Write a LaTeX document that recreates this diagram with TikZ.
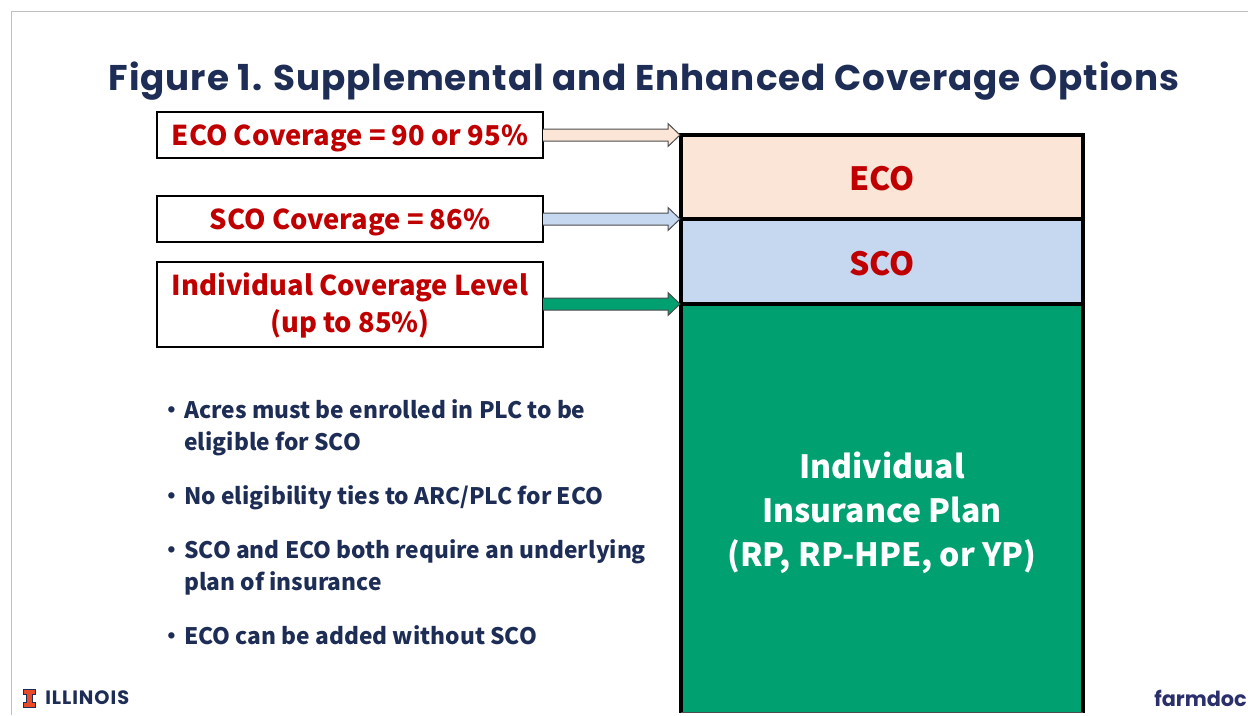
\documentclass[tikz,border=0pt]{standalone}
\usepackage{fontspec}
\usetikzlibrary{calc}
\setmainfont{Noto Sans CJK SC}
\newfontfamily\titlefont[LetterSpace=2.6]{Poppins}
\newfontfamily\logofont[LetterSpace=5]{Poppins}
\newfontfamily\farmfont{Poppins}
\definecolor{navy}{HTML}{1D2D55}
\definecolor{farmnavy}{HTML}{2B2F6B}
\definecolor{redtxt}{HTML}{C00000}
\definecolor{ecofill}{HTML}{FBE5D6}
\definecolor{scofill}{HTML}{C5D8F0}
\definecolor{greenfill}{HTML}{00A070}
\definecolor{framegray}{HTML}{BFBFBF}
\definecolor{illiorange}{HTML}{E84A27}
\tikzset{
  x=0.75pt,y=-0.75pt,
  labelbox/.style={draw=black,line width=1.9pt,outer sep=0pt,fill=white,minimum width=289.5pt,inner sep=0pt,align=center,text=redtxt,font=\fontsize{20.5}{27.75}\selectfont\bfseries},
  stackbox/.style={draw=black,line width=3pt,outer sep=0pt,minimum width=301pt,inner sep=0pt,align=center,font=\fontsize{24}{33}\selectfont\bfseries},
  bullettext/.style={anchor=west,inner sep=0pt,align=left,text=navy,font=\fontsize{17.05}{24}\selectfont\bfseries},
  blockarrow/.style={draw=black!70,line width=0.75pt,fill=#1,line join=miter}
}
\newcommand{\blockarr}[3]{%
  \draw[blockarrow=#3] let \p1=(#1),\p2=(#2) in
    (\x1,\y2+4.5pt) -- (\x2-10pt,\y2+4.5pt) -- (\x2-10pt,\y2+8.6pt) -- (\x2-1pt,\y2) --
    (\x2-10pt,\y2-8.6pt) -- (\x2-10pt,\y2-4.5pt) -- (\x1,\y2-4.5pt);
}
\newcommand{\itembullet}{\makebox[13.6pt][l]{\hspace{-4.5pt}•}}
\newcommand{\lowered}[2]{\raisebox{-#1}[\height][\depth]{#2}}
\begin{document}
\begin{tikzpicture}
\useasboundingbox (0,0) rectangle (1248,715);
\draw[framegray,line width=0.9pt] (11.5,715) -- (11.5,11.5) -- (1248,11.5);

\node[anchor=center,text=navy,font=\titlefont\fontsize{26.8}{30}\selectfont\bfseries] (title) at (644,81) {Figure 1. Supplemental and Enhanced Coverage Options};

% stack
\node[fill=greenfill,outer sep=0pt,inner sep=0pt,minimum width=301pt,minimum height=306.4pt] (ind) at (882,508.3) {};
\draw[black,line width=3pt] (ind.north west) -- (ind.south west) (ind.north east) -- (ind.south east);
\draw[black!70,line width=0.75pt] (ind.south west) -- (ind.south east);
\node[stackbox,fill=ecofill,text=redtxt,minimum height=63pt] (eco) at (882,177) {\lowered{1.5pt}{ECO}};
\node[stackbox,fill=scofill,text=redtxt,minimum height=63.75pt] (sco) at (882,261.5) {\lowered{1.5pt}{SCO}};
\node[text=white,align=center,inner sep=0pt,font=\fontsize{24}{33}\selectfont\bfseries] (indtext) at (882,512.5) {Individual\\Insurance Plan\\(RP, RP-HPE, or YP)};

% labels
\node[labelbox,minimum height=34.5pt] (ecol) at (350,135) {\lowered{2.2pt}{ECO Coverage = 90 or 95\%}};
\node[labelbox,minimum height=34.5pt] (scol) at (350,219) {\lowered{2.2pt}{SCO Coverage = 86\%}};
\node[labelbox,minimum height=63.75pt] (indl) at (350,304.5) {\lowered{1.5pt}{\begin{tabular}{@{}c@{}}Individual Coverage Level\\(up to 85\%)\end{tabular}}};

% arrows
\blockarr{ecol.east}{eco.north west}{ecofill}
\blockarr{scol.east}{eco.south west}{scofill}
\blockarr{indl.east}{sco.south west}{greenfill}

% bullets
\node[bullettext] (b1) at (166,428) {\itembullet Acres must be enrolled in PLC to be\\\makebox[13.6pt]{}eligible for SCO};
\node[bullettext] (b2) at (166,498) {\itembullet No eligibility ties to ARC/PLC for ECO};
\node[bullettext] (b3) at (166,567) {\itembullet SCO and ECO both require an underlying\\\makebox[13.6pt]{}plan of insurance};
\node[bullettext] (b4) at (166,635) {\itembullet ECO can be added without SCO};

% logos
\draw[navy,line width=0.4pt,fill=illiorange] (23.5,689.5) -- (35.5,689.5) -- (35.5,694) -- (32.5,694) -- (32.5,702.5) -- (35.5,702.5) -- (35.5,707) -- (23.5,707) -- (23.5,702.5) -- (26.5,702.5) -- (26.5,694) -- (23.5,694) -- cycle;
\node[anchor=west,inner sep=0pt,text=navy,font=\logofont\fontsize{14.5}{16}\selectfont\bfseries] (illinois) at (45,698) {ILLINOIS};
\node[anchor=west,inner sep=0pt,text=farmnavy,font=\farmfont\fontsize{15.6}{18}\selectfont\bfseries] (farmdoc) at (1154,698) {farmdoc};
\end{tikzpicture}
\end{document}
